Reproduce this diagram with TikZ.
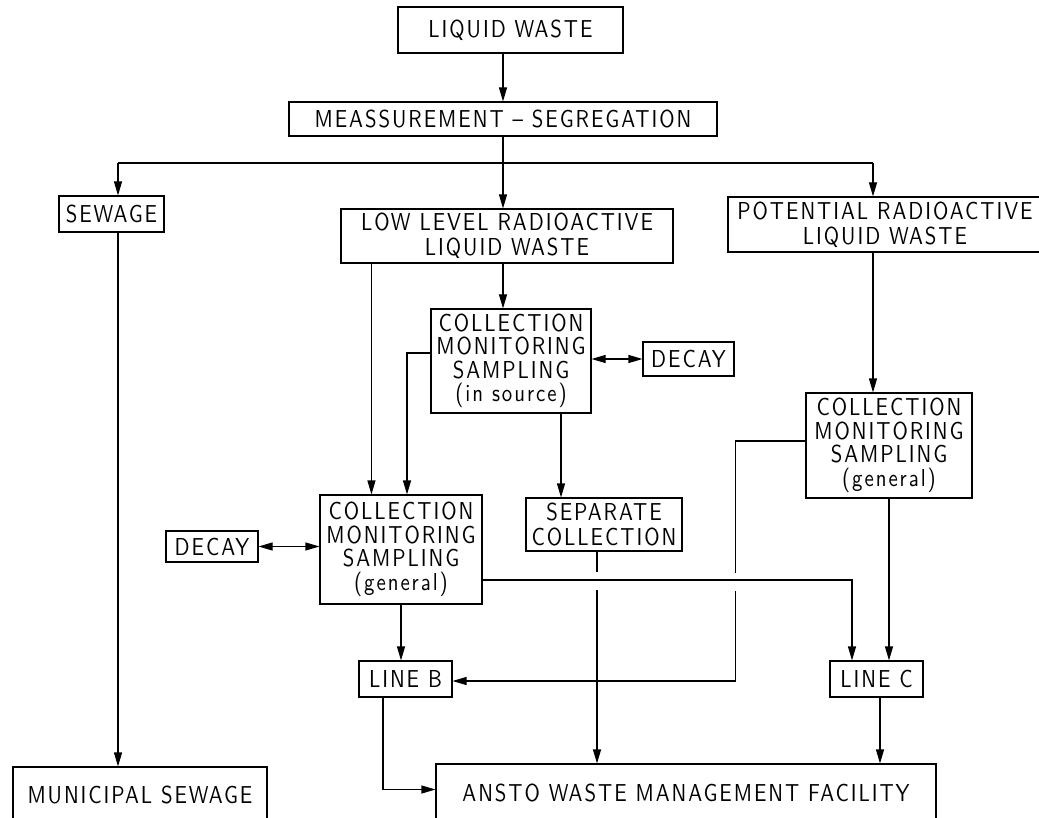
\documentclass[tikz,border=0pt]{standalone}
\usepackage{fontspec}
\newfontfamily\cadfont[FakeStretch=0.85,LetterSpace=8]{lmsans10-regular.otf}
\usetikzlibrary{arrows.meta}

\begin{document}
\begin{tikzpicture}[x=1pt,y=-1pt,
  box/.style={draw, line width=1.1pt, inner sep=0pt, align=center,
    font=\cadfont\fontsize{24.5}{25}\selectfont},
  tall/.style={font=\cadfont\fontsize{24.5}{23.5}\selectfont},
  conn/.style={line width=1.1pt},
  arr/.style={conn, -{Triangle[length=14pt,width=8pt]}},
  darr/.style={conn, {Triangle[length=14pt,width=8pt]}-{Triangle[length=14pt,width=8pt]}}]

% page area
\fill[white] (0,0) rectangle (1039,818);
\useasboundingbox (0,0) rectangle (1039,818);

% boxes
\node[box, minimum width=225pt, minimum height=46pt] (lw) at (510.5,30) {LIQUID WASTE};
\node[box, minimum width=428pt, minimum height=34pt] (ms) at (503,119) {MEASSUREMENT – SEGREGATION};
\node[box, minimum width=105pt, minimum height=36pt] (sew) at (111.5,214) {SEWAGE};
\node[box, minimum width=332pt, minimum height=54pt] (ll) at (507,236) {LOW LEVEL RADIOACTIVE\\LIQUID WASTE};
\node[box, minimum width=314pt, minimum height=55pt] (pot) at (885,224.5) {POTENTIAL RADIOACTIVE\\LIQUID WASTE};
\node[box, tall, minimum width=160pt, minimum height=104pt] (src) at (511,361) {COLLECTION\\MONITORING\\SAMPLING\\(in source)};
\node[box, minimum width=91pt, minimum height=34pt] (decR) at (688.5,359) {DECAY};
\node[box, tall, minimum width=162pt, minimum height=109pt] (genL) at (401,549.5) {COLLECTION\\MONITORING\\SAMPLING\\(general)};
\node[box, minimum width=92pt, minimum height=31pt] (decL) at (212,546.5) {DECAY};
\node[box, minimum width=156pt, minimum height=53pt] (sep) at (604,524.5) {SEPARATE\\COLLECTION};
\node[box, tall, minimum width=166pt, minimum height=105pt] (genR) at (889,445.5) {COLLECTION\\MONITORING\\SAMPLING\\(general)};
\node[box, minimum width=93pt, minimum height=36pt] (lineB) at (405.5,679) {LINE B};
\node[box, minimum width=93pt, minimum height=36pt] (lineC) at (876.5,679) {LINE C};
\node[box, minimum width=500pt, minimum height=57pt] (ansto) at (686,792.5) {ANSTO WASTE MANAGEMENT FACILITY};
\node[box, minimum width=254pt, minimum height=55pt] (mun) at (140,794.5) {MUNICIPAL SEWAGE};

% distribution bus under the segregation step
\coordinate (busL) at (118,163);
\coordinate (busR) at (873,163);
\draw[arr] (ms.north |- lw.south) -- (ms.north);
\draw[arr] (ms.south) -- (ms.south |- ll.north);
\draw[conn] (busL) -- (busR);
\draw[arr] (busL) -- (busL |- sew.north);
\draw[arr] (busR) -- (busR |- pot.north);
\draw[arr] (busL |- sew.south) -- (busL |- mun.north);

% low level branch
\coordinate (llA) at ([xshift=31pt]ll.south west);
\draw[arr] (llA) -- (llA |- genL.north);
\draw[arr] (ms.south |- ll.south) -- (ms.south |- src.north);
\coordinate (srcL) at ([yshift=8pt]src.west);
\coordinate (genLin) at ([xshift=6pt]genL.north);
\draw[arr] (srcL) -| (genLin);
\draw[darr] (src.east |- decR.west) -- (decR.west);
\coordinate (srcB) at ([xshift=50pt]src.south);
\draw[arr] (srcB) -- (srcB |- sep.north);
\draw[darr] (decL.east) -- (decL.east -| genL.west);
\draw[arr] (genL.south) -- (genL.south |- lineB.north);

% general collection to line C
\coordinate (hB) at ([yshift=-30.5pt]genL.east);
\coordinate (lineCin) at ([xshift=-24.5pt]lineC.north);
\draw[arr] (hB) -| (lineCin);

% separate collection, broken where it crosses
\coordinate (sepB) at ([xshift=-7pt]sep.south);
\coordinate (sepX) at (sepB |- hB);
\draw[conn] (sepB) -- ([yshift=8pt]sepX);
\draw[arr] ([yshift=-10pt]sepX) -- (sepB |- ansto.north);

% potential branch: general collection back to line B
\coordinate (rA) at ([yshift=4.5pt]genR.west);
\coordinate (rT) at ([xshift=-70pt]rA);
\coordinate (rX) at (rT |- hB);
\coordinate (rE) at ([yshift=-2pt]lineB.east);
\draw[conn] (rA) -- (rT) -- ([yshift=7pt]rX);
\draw[arr] ([yshift=-11pt]rX) |- (rE);
\draw[arr] (busR |- pot.south) -- (busR |- genR.north);
\draw[arr] (genR.south) -- (genR.south |- lineC.north);

% lines into the facility
\coordinate (lineBout) at ([xshift=-22.5pt]lineB.south);
\draw[arr] (lineBout) |- ([yshift=3pt]ansto.west);
\coordinate (lineCout) at ([xshift=3.5pt]lineC.south);
\draw[arr] (lineCout) -- (lineCout |- ansto.north);
\end{tikzpicture}
\end{document}
